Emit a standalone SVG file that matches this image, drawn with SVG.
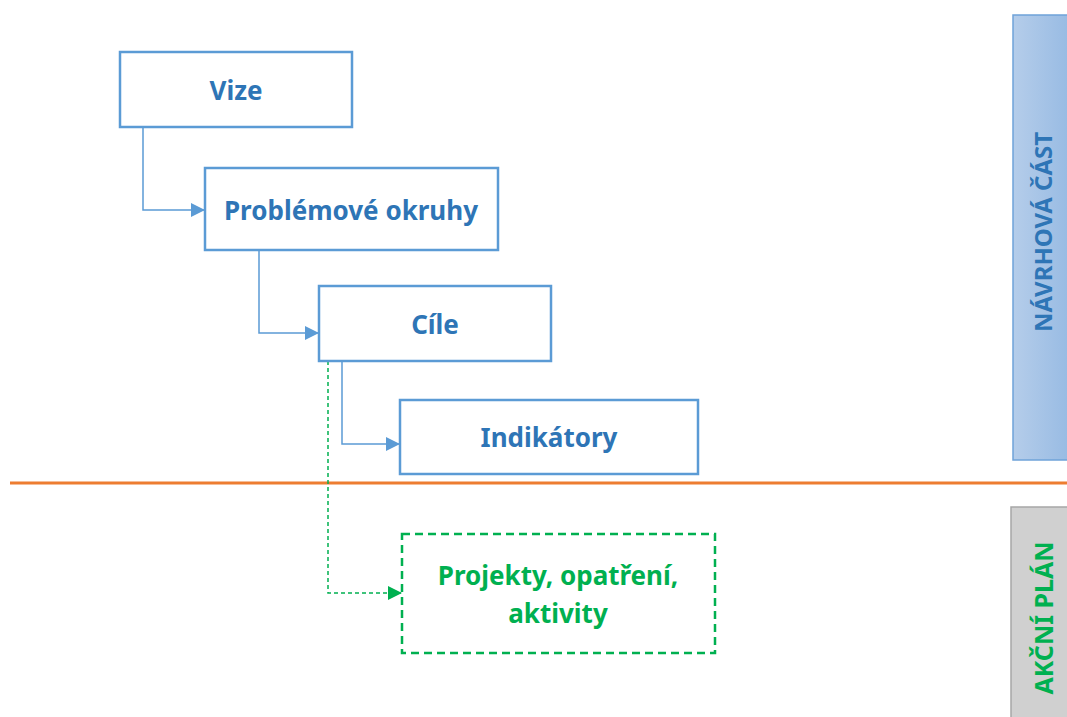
<svg xmlns="http://www.w3.org/2000/svg" width="1067" height="717" viewBox="0 0 1067 717">
<defs>
<linearGradient id="gb" x1="0" y1="0" x2="1" y2="0">
<stop offset="0" stop-color="#b5cdea"/>
<stop offset="1" stop-color="#98bbe3"/>
</linearGradient>
<marker id="ab" viewBox="0 0 10 10" refX="10" refY="5" markerWidth="14" markerHeight="14" markerUnits="userSpaceOnUse" orient="auto">
<path d="M0,0 L10,5 L0,10 z" fill="#5b9bd5"/>
</marker>
<marker id="ag" viewBox="0 0 10 10" refX="10" refY="5" markerWidth="14" markerHeight="14" markerUnits="userSpaceOnUse" orient="auto">
<path d="M0,0 L10,5 L0,10 z" fill="#00b050"/>
</marker>
</defs>
<style>
.box{fill:#fff;stroke:#5b9bd5;stroke-width:2.5}
.gbox{fill:#fff;stroke:#00b050;stroke-width:2.5;stroke-dasharray:8 5}
.t{font-family:"Noto Sans","Liberation Sans",sans-serif;font-weight:bold;font-size:26px;text-anchor:middle}
.bt{fill:#2e75b6}
.gt{fill:#00b050}
.c{fill:none;stroke:#5b9bd5;stroke-width:1.5}
.cg{fill:none;stroke:#00b050;stroke-width:1.5;stroke-dasharray:4 3}
</style>
<rect width="1067" height="717" fill="#fff"/>
<g id="panel-navrh">
<rect x="1013" y="15" width="56" height="445" fill="url(#gb)" stroke="#6fa3d9" stroke-width="1.5"/>
<text class="t bt" transform="translate(1052,232) rotate(-90)" style="font-size:24px">NÁVRHOVÁ ČÁST</text>
</g>
<g id="panel-akcni">
<rect x="1011" y="507" width="58" height="212" fill="#d0d0d0" stroke="#a6a6a6" stroke-width="1.5"/>
<text class="t gt" transform="translate(1053,618) rotate(-90)" style="font-size:25px">AKČNÍ PLÁN</text>
</g>
<g id="divider">
<line x1="10" y1="483" x2="1067" y2="483" stroke="#ed7d31" stroke-width="3"/>
</g>
<g id="connectors">
<path class="c" d="M143,127 V210 H205" marker-end="url(#ab)"/>
<path class="c" d="M259,250 V333 H319" marker-end="url(#ab)"/>
<path class="c" d="M342,361 V444 H400" marker-end="url(#ab)"/>
<path class="cg" d="M328,361 V593 H402" marker-end="url(#ag)"/>
</g>
<g id="vize">
<rect class="box" x="120" y="52" width="232" height="75"/>
<text class="t bt" x="236" y="100">Vize</text>
</g>
<g id="problemove">
<rect class="box" x="205" y="168" width="293" height="82"/>
<text class="t bt" x="351" y="220">Problémové okruhy</text>
</g>
<g id="cile">
<rect class="box" x="319" y="286" width="232" height="75"/>
<text class="t bt" x="435" y="334">Cíle</text>
</g>
<g id="indikatory">
<rect class="box" x="400" y="400" width="298" height="74"/>
<text class="t bt" x="549" y="447">Indikátory</text>
</g>
<g id="projekty">
<rect class="gbox" x="402" y="534" width="313" height="119"/>
<text class="t gt" x="558" y="585">Projekty, opatření,</text>
<text class="t gt" x="558" y="623">aktivity</text>
</g>
</svg>
